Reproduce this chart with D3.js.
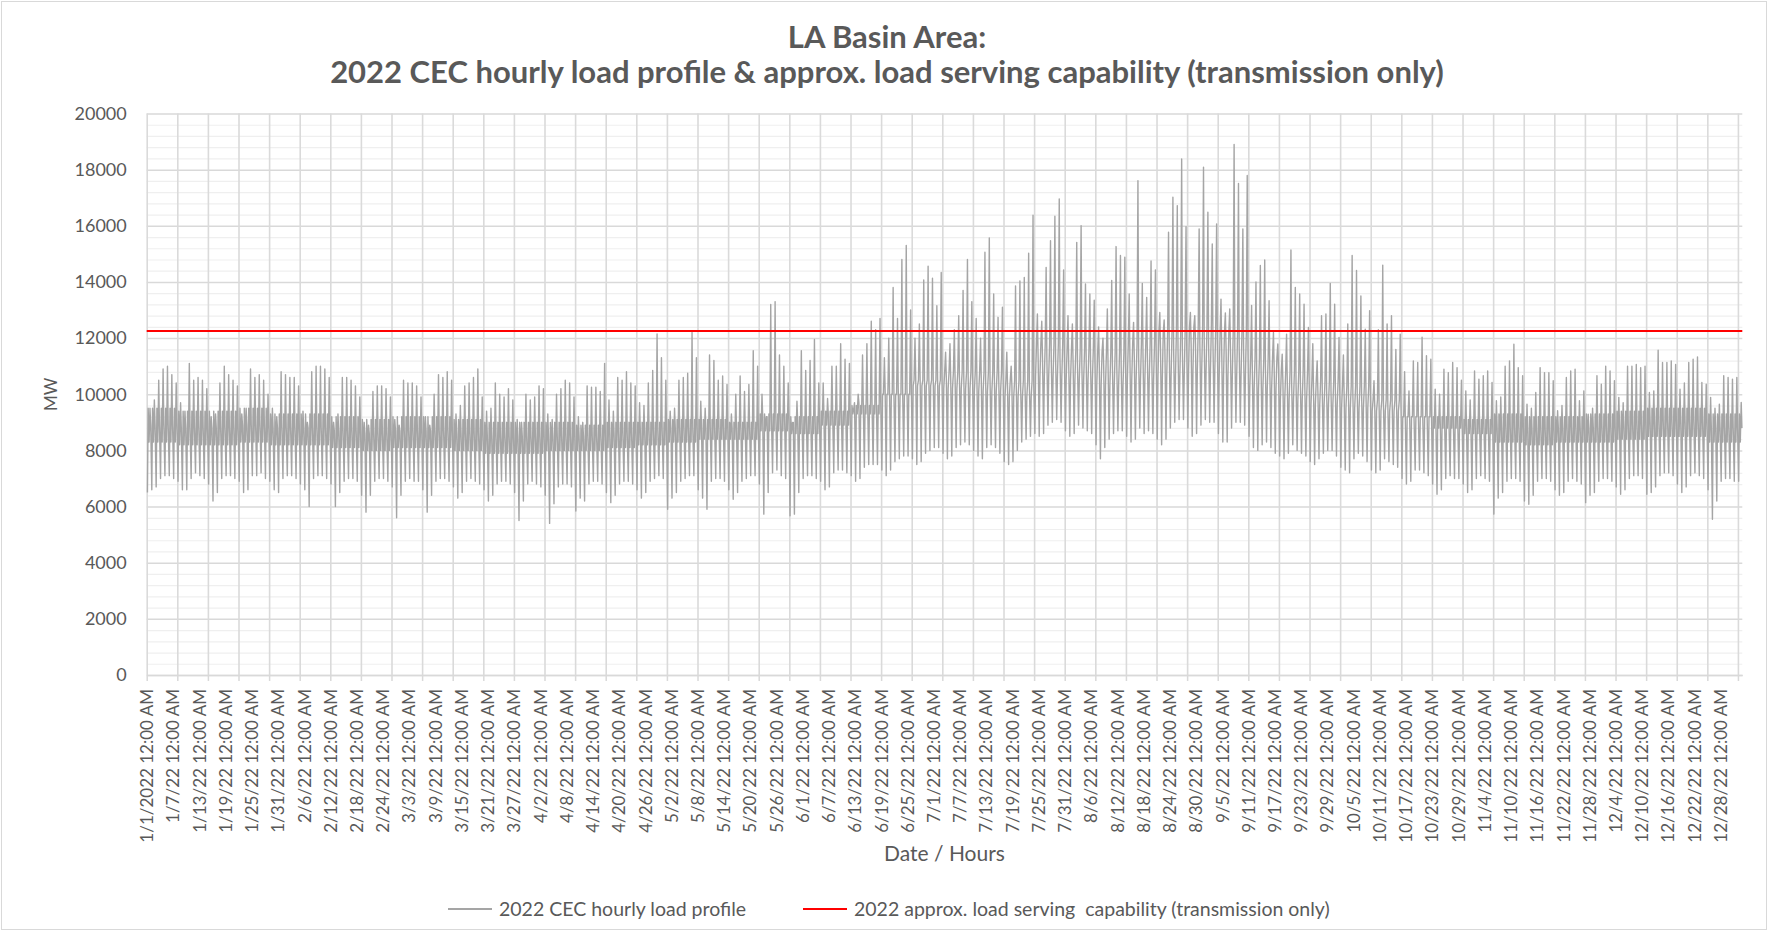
<!DOCTYPE html>
<html>
<head>
<meta charset="utf-8">
<script src="https://cdn.jsdelivr.net/npm/d3@7/dist/d3.min.js"></script>
<style>
  body { margin: 0; background: #fff; }
  text { font-family: Lato, "Open Sans", sans-serif; fill: #595959; }
</style>
</head>
<body>
<svg id="chart" width="1771" height="933"></svg>
<script>
// x labels every 144 hours (category axis), weekly gridlines
const xLabels = ['1/1/2022 12:00 AM', '1/7/22 12:00 AM', '1/13/22 12:00 AM', '1/19/22 12:00 AM', '1/25/22 12:00 AM',
  '1/31/22 12:00 AM', '2/6/22 12:00 AM', '2/12/22 12:00 AM', '2/18/22 12:00 AM', '2/24/22 12:00 AM',
  '3/3/22 12:00 AM', '3/9/22 12:00 AM', '3/15/22 12:00 AM', '3/21/22 12:00 AM', '3/27/22 12:00 AM',
  '4/2/22 12:00 AM', '4/8/22 12:00 AM', '4/14/22 12:00 AM', '4/20/22 12:00 AM', '4/26/22 12:00 AM',
  '5/2/22 12:00 AM', '5/8/22 12:00 AM', '5/14/22 12:00 AM', '5/20/22 12:00 AM', '5/26/22 12:00 AM',
  '6/1/22 12:00 AM', '6/7/22 12:00 AM', '6/13/22 12:00 AM', '6/19/22 12:00 AM', '6/25/22 12:00 AM',
  '7/1/22 12:00 AM', '7/7/22 12:00 AM', '7/13/22 12:00 AM', '7/19/22 12:00 AM', '7/25/22 12:00 AM',
  '7/31/22 12:00 AM', '8/6/22 12:00 AM', '8/12/22 12:00 AM', '8/18/22 12:00 AM', '8/24/22 12:00 AM',
  '8/30/22 12:00 AM', '9/5/22 12:00 AM', '9/11/22 12:00 AM', '9/17/22 12:00 AM', '9/23/22 12:00 AM',
  '9/29/22 12:00 AM', '10/5/22 12:00 AM', '10/11/22 12:00 AM', '10/17/22 12:00 AM', '10/23/22 12:00 AM',
  '10/29/22 12:00 AM', '11/4/22 12:00 AM', '11/10/22 12:00 AM', '11/16/22 12:00 AM', '11/22/22 12:00 AM',
  '11/28/22 12:00 AM', '12/4/22 12:00 AM', '12/10/22 12:00 AM', '12/16/22 12:00 AM', '12/22/22 12:00 AM',
  '12/28/22 12:00 AM'];
const labelStepHours = 144;
const gridStepHours = 168;
const totalHours = 8760;

const yTickValues = [0, 2000, 4000, 6000, 8000, 10000, 12000, 14000, 16000, 18000, 20000];
const capabilityMW = 12250;

// daily peak load (MW), one row per week starting Sat 1/1
const dailyPeakMW = [
  9500, 9800, 10500, 10900, 11000, 10700, 10400,
  9700, 9400, 11100, 10500, 10600, 10500, 10200,
  9200, 9300, 10400, 11000, 10700, 10500, 10300,
  9300, 9500, 10900, 10600, 10700, 10500, 10000,
  9500, 9200, 10800, 10700, 10600, 10600, 10300,
  9400, 9000, 10800, 11000, 11000, 10900, 10600,
  9000, 9300, 10600, 10600, 10500, 10300, 9900,
  9000, 8900, 10100, 10300, 10300, 10200, 9900,
  9100, 8900, 10500, 10400, 10400, 10300, 9900,
  9200, 8900, 10000, 10700, 10600, 10800, 10500,
  9300, 9600, 10300, 10400, 10600, 10900, 9900,
  9400, 9500, 10400, 10000, 9900, 10200, 9800,
  9100, 9000, 10000, 9800, 9900, 10300, 10200,
  9300, 9100, 10000, 10200, 10500, 10400, 9900,
  9200, 9000, 10300, 10250, 10250, 10100, 11100,
  9800, 9400, 10600, 10500, 10800, 10400, 10300,
  9700, 9600, 10400, 10850, 12150, 11300, 10500,
  9400, 9500, 10500, 10600, 10750, 12200, 11300,
  9750, 9500, 11400, 11200, 10500, 10650, 10350,
  9300, 10000, 10650, 10100, 10350, 11550, 11000,
  10000, 9200, 13200, 13300, 11400, 11000, 10400,
  9000, 9750, 11550, 10850, 11200, 11950, 10400,
  10400, 9850, 11000, 11000, 11800, 11250, 11100,
  9500, 10000, 11400, 11800, 12600, 12300, 12700,
  11300, 12000, 13800, 12700, 14800, 15300, 13000,
  12000, 12500, 14070, 14560, 14130, 13150, 14340,
  11500, 11800, 12300, 12800, 13700, 14800, 13300,
  12700, 12000, 15060, 15570, 13570, 12740, 13100,
  11500, 11000, 13860, 14040, 14160, 15020, 16380,
  12860, 12600, 14520, 15470, 16340, 16960, 14430,
  12800, 12500, 15410, 16000, 13930, 13570, 13350,
  12400, 12000, 13040, 14050, 15260, 14940, 14880,
  13570, 12560, 17610, 13950, 13450, 14750, 14430,
  12910, 12650, 15770, 17020, 16720, 18380, 15970,
  12910, 12800, 15890, 18090, 16480, 15350, 16070,
  13390, 12900, 13040, 18900, 17510, 15890, 17790,
  13160, 14000, 14590, 14780, 13330, 12200, 11790,
  11430, 12140, 15140, 13800, 13570, 13210, 12380,
  11800, 11190, 12800, 12860, 13950, 13210, 12020,
  11400, 12500, 14940, 14410, 13500, 12320, 12980,
  10480, 12300, 14600, 12500, 12800, 11600, 12140,
  10800, 10120, 11190, 11130, 12030, 11370, 11250,
  10180, 10000, 10890, 10770, 11130, 10950, 10500,
  10120, 9800, 10830, 10540, 10660, 10830, 10420,
  9770, 9900, 11000, 11190, 11780, 10950, 10660,
  9650, 9500, 10060, 10950, 10770, 10770, 10480,
  9410, 9600, 10600, 10830, 10890, 9770, 10120,
  9290, 9500, 10660, 10360, 11000, 10830, 10480,
  9890, 9700, 11000, 11000, 11060, 10950, 11000,
  10060, 10120, 11570, 11130, 11130, 11190, 11060,
  10180, 10400, 11130, 11250, 11330, 10420, 10360,
  9890, 9500, 9650, 10660, 10600, 10540, 10600,
  9710
];

// daily early-morning minimum (MW)
const dailyLowMW = [
  6500, 6600, 6700, 7000, 7100, 7100, 7000,
  6900, 6600, 6600, 7000, 7200, 7100, 7000,
  6800, 6200, 6500, 7000, 7100, 7100, 7000,
  6900, 6500, 6600, 7100, 7100, 7200, 7000,
  6900, 6600, 6500, 7000, 7100, 7100, 7000,
  6800, 6600, 6000, 7000, 7100, 7100, 7000,
  6800, 6000, 6500, 6900, 7000, 7000, 6900,
  6400, 5800, 6400, 6900, 7000, 7000, 6900,
  6700, 5600, 6400, 6900, 7000, 6900, 6900,
  6600, 5800, 6400, 6900, 7000, 7000, 6900,
  6700, 6300, 6500, 6900, 7000, 6900, 6800,
  6600, 6200, 6400, 6800, 6900, 6900, 6800,
  6500, 5500, 6200, 6800, 6900, 6800, 6700,
  6400, 5400, 6100, 6700, 6800, 6800, 6700,
  5840, 6300, 6200, 6800, 6900, 6900, 6800,
  6500, 6140, 6400, 6800, 6900, 6900, 6800,
  6600, 6300, 6500, 6900, 7000, 7100, 7000,
  5900, 6300, 6500, 6900, 7000, 7100, 7100,
  6600, 6300, 5900, 6900, 7000, 7000, 6900,
  6600, 6260, 6500, 6900, 7000, 7100, 7100,
  6800, 5730, 6500, 7200, 7300, 7100, 7000,
  5670, 5730, 6500, 7000, 7100, 7100, 7000,
  6900, 6600, 6700, 7200, 7300, 7300, 7200,
  7100, 6900, 7000, 7400, 7500, 7500, 7500,
  7300, 7100, 7300, 7600, 7700, 7800, 7800,
  7700, 7500, 7600, 7900, 8000, 8100, 8100,
  7900, 7700, 7800, 8100, 8200, 8300, 8200,
  8000, 7800, 7700, 8100, 8200, 8100, 7900,
  7600, 7500, 7600, 8000, 8300, 8400, 8500,
  8600, 8500, 8600, 8900, 9000, 9100, 9000,
  8700, 8500, 8600, 8900, 8800, 8700, 8600,
  8200, 7700, 8100, 8400, 8600, 8700, 8700,
  8500, 8300, 8400, 8800, 8600, 8700, 8600,
  8400, 8200, 8400, 8800, 9000, 9100, 9100,
  8800, 8500, 8600, 8900, 9100, 9000, 9000,
  8600, 8300, 8300, 8800, 9000, 9000, 8900,
  8500, 8100, 8000, 8200, 8300, 8100, 7900,
  7800, 7700, 7900, 8200, 8000, 7900, 7800,
  7600, 7500, 7700, 7900, 8000, 8000, 7800,
  7400, 7300, 7200, 7700, 7900, 7800, 7600,
  7300, 7200, 7300, 7700, 7600, 7500, 7400,
  7000, 6800, 6900, 7300, 7300, 7200, 7100,
  6800, 6440, 6600, 7000, 7100, 7000, 7000,
  6800, 6500, 6600, 7000, 7100, 7000, 6900,
  5730, 6300, 6500, 6900, 7000, 7000, 6900,
  6200, 6080, 6400, 6900, 7000, 7000, 6900,
  6600, 6400, 6500, 6900, 7000, 6900, 6800,
  6140, 6400, 6500, 6900, 7000, 7000, 6900,
  6700, 6440, 6600, 7000, 7100, 7100, 7000,
  6440, 6500, 6700, 7100, 7200, 7200, 7100,
  6800, 6500, 6700, 7100, 7200, 7100, 7000,
  6600, 5550, 6200, 6900, 7000, 7000, 6900,
  6900
];

// typical level per week at 8am, 1pm and 10pm (MW)
const weekMorningMW = [
  9500, 9400, 9400, 9500, 9300, 9300, 9200, 9100, 9200, 9200, 9100, 9000, 9000,
  9000, 8900, 9000, 9000, 9100, 9100, 9000, 9300, 9200, 9400, 9600, 10000, 10300,
  10200, 10100, 9900, 10600, 10500, 10300, 10500, 10600, 10800, 10600, 10200, 9800, 9600,
  9500, 9400, 9200, 9200, 9100, 9300, 9200, 9200, 9300, 9400, 9500, 9500, 9300, 9300
];
const weekMiddayMW = [
  8300, 8200, 8200, 8300, 8200, 8200, 8100, 8000, 8100, 8100, 8000, 7900, 7900,
  8000, 8000, 8100, 8200, 8300, 8400, 8400, 8700, 8600, 8900, 9300, 10000, 10500,
  10800, 10800, 10500, 11800, 11600, 11500, 11800, 12200, 12400, 12200, 11300, 10800, 10500,
  10300, 9800, 9200, 8800, 8600, 8300, 8200, 8300, 8300, 8400, 8500, 8500, 8300, 8300
];
const weekEveningMW = [
  8900, 8800, 8800, 8900, 8800, 8800, 8700, 8600, 8700, 8700, 8600, 8500, 8500,
  8500, 8500, 8600, 8700, 8800, 8800, 8800, 9200, 9000, 9300, 9700, 10200, 10600,
  10600, 10500, 10300, 11300, 11100, 11000, 11300, 11600, 11800, 11600, 10900, 10400, 10100,
  10000, 9600, 9100, 8900, 8800, 8800, 8700, 8800, 8800, 8900, 9000, 9000, 8800, 8800
];
const pointHours = [4, 8, 13, 18, 22];

const svg = d3.select('#chart');
const plot = { left: 146.7, right: 1742.3, top: 113.5, bottom: 675 };

const x = d3.scaleLinear().domain([0, totalHours]).range([plot.left, plot.right]);
const y = d3.scaleLinear().domain([0, 20000]).range([plot.bottom, plot.top]);

// chart border
svg.append('rect')
  .attr('x', 1.5).attr('y', 1.5)
  .attr('width', 1765).attr('height', 928)
  .attr('fill', '#fff')
  .attr('stroke', '#d9d9d9');

// minor horizontal gridlines
const minorTicks = d3.range(0, 20001, 400).filter(v => v % 2000 !== 0);
svg.append('g')
  .attr('transform', `translate(${plot.left},0)`)
  .call(d3.axisLeft(y).tickValues(minorTicks).tickSize(-(plot.right - plot.left)).tickFormat(''))
  .call(g => g.select('.domain').remove())
  .call(g => g.selectAll('.tick line').attr('stroke', '#efefef').attr('stroke-width', 1.2));

// major horizontal gridlines
svg.append('g')
  .attr('transform', `translate(${plot.left},0)`)
  .call(d3.axisLeft(y).tickValues(yTickValues).tickSize(-(plot.right - plot.left)).tickFormat(''))
  .call(g => g.select('.domain').remove())
  .call(g => g.selectAll('.tick line').attr('stroke', '#d9d9d9').attr('stroke-width', 1.5));

// weekly vertical gridlines
const weekHours = d3.range(0, totalHours, gridStepHours);
svg.append('g')
  .attr('transform', `translate(0,${plot.bottom})`)
  .call(d3.axisBottom(x).tickValues(weekHours).tickSize(-(plot.bottom - plot.top)).tickFormat(''))
  .call(g => g.select('.domain').remove())
  .call(g => g.selectAll('.tick line').attr('stroke', '#dadada').attr('stroke-width', 1.6));

// bottom axis line and tick marks
svg.append('g')
  .attr('transform', `translate(0,${plot.bottom})`)
  .call(d3.axisBottom(x).tickValues(weekHours).tickSize(6).tickSizeOuter(0).tickFormat(''))
  .call(g => g.select('.domain').attr('stroke', '#d9d9d9').attr('stroke-width', 1.5))
  .call(g => g.selectAll('.tick line').attr('stroke', '#d9d9d9').attr('stroke-width', 1.5));

// y tick labels
svg.append('g')
  .attr('transform', `translate(${plot.left},0)`)
  .call(d3.axisLeft(y).tickValues(yTickValues).tickSize(0).tickPadding(20).tickFormat(d3.format('d')))
  .call(g => g.select('.domain').remove())
  .call(g => g.selectAll('.tick text')
    .style('font-family', 'Lato, sans-serif')
    .style('font-size', '18px')
    .attr('fill', '#595959'));

// x tick labels (rotated)
const labelHours = xLabels.map((d, i) => i * labelStepHours);
svg.append('g')
  .attr('transform', `translate(0,${plot.bottom})`)
  .call(d3.axisBottom(x).tickValues(labelHours).tickSize(0).tickFormat((d, i) => xLabels[i]))
  .call(g => g.select('.domain').remove())
  .call(g => g.selectAll('.tick text')
    .attr('transform', 'rotate(-90)')
    .attr('x', -14)
    .attr('y', 0)
    .attr('dy', '0.35em')
    .style('text-anchor', 'end')
    .style('font-family', 'Lato, sans-serif')
    .style('font-size', '17px')
    .attr('fill', '#595959'));

// hourly load profile
const loadPoints = [];
dailyPeakMW.forEach((peak, d) => {
  const w = Math.floor(d / 7);
  const vals = [dailyLowMW[d], weekMorningMW[w], weekMiddayMW[w], peak, weekEveningMW[w]];
  pointHours.forEach((h, k) => loadPoints.push([d * 24 + h, vals[k]]));
});

const line = d3.line()
  .x(d => x(d[0]))
  .y(d => y(d[1]));

svg.append('path')
  .datum(loadPoints)
  .attr('fill', 'none')
  .attr('stroke', '#a5a5a5')
  .attr('stroke-width', 1.4)
  .attr('stroke-linejoin', 'round')
  .attr('d', line);

// load serving capability
svg.append('line')
  .attr('x1', x(0)).attr('x2', x(totalHours))
  .attr('y1', y(capabilityMW)).attr('y2', y(capabilityMW))
  .attr('stroke', '#ff0000')
  .attr('stroke-width', 2);

// titles
svg.append('text')
  .attr('x', 887).attr('y', 48)
  .attr('text-anchor', 'middle')
  .style('font-size', '31px').style('font-weight', 'bold')
  .text('LA Basin Area:');
svg.append('text')
  .attr('x', 887).attr('y', 83)
  .attr('text-anchor', 'middle')
  .style('font-size', '31px').style('font-weight', 'bold')
  .text('2022 CEC hourly load profile & approx. load serving capability (transmission only)');

svg.append('text')
  .attr('transform', `translate(57,${(plot.top + plot.bottom) / 2}) rotate(-90)`)
  .attr('text-anchor', 'middle')
  .style('font-size', '17px')
  .text('MW');

svg.append('text')
  .attr('x', (plot.left + plot.right) / 2).attr('y', 861)
  .attr('text-anchor', 'middle')
  .style('font-size', '21px')
  .text('Date / Hours');

// legend
const legendItems = [
  { label: '2022 CEC hourly load profile', color: '#a5a5a5', x: 448 },
  { label: '2022 approx. load serving  capability (transmission only)', color: '#ff0000', x: 803 }
];
const legend = svg.append('g').attr('transform', 'translate(0,909)');
legend.selectAll('line')
  .data(legendItems)
  .join('line')
  .attr('x1', d => d.x).attr('x2', d => d.x + 44)
  .attr('y1', 0).attr('y2', 0)
  .attr('stroke', d => d.color)
  .attr('stroke-width', 2);
legend.selectAll('text')
  .data(legendItems)
  .join('text')
  .attr('x', d => d.x + 51)
  .attr('y', 0)
  .attr('dy', '0.35em')
  .style('font-size', '19.5px')
  .style('white-space', 'pre')
  .text(d => d.label);
</script>
</body>
</html>
